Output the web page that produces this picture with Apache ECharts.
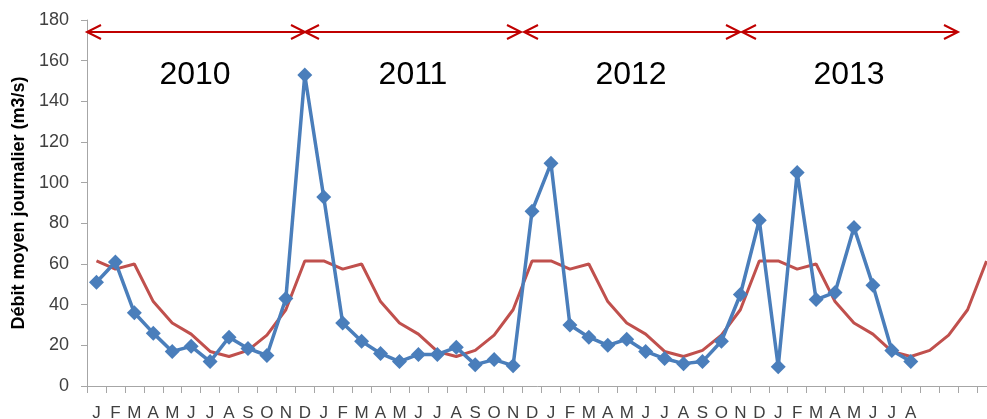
<!DOCTYPE html>
<html>
<head>
<meta charset="utf-8">
<script src="https://cdn.jsdelivr.net/npm/echarts@6/dist/echarts.min.js"></script>
<style>
html,body{margin:0;padding:0;background:#fff;overflow:hidden;}
#chart{width:987px;height:419px;}
</style>
</head>
<body>
<div id="chart"></div>
<script>
// Month tick labels (48 categories, last 4 unlabeled)
const months = [
  'J','F','M','A','M','J','J','A','S','O','N','D',
  'J','F','M','A','M','J','J','A','S','O','N','D',
  'J','F','M','A','M','J','J','A','S','O','N','D',
  'J','F','M','A','M','J','J','A','','','',''
];
// Measured mean daily discharge (m3/s)
const debitMesure = [
  51, 61, 36, 26, 17, 19.5, 12, 24, 18.5, 15, 43, 153,
  93, 31, 22, 16, 12, 15.5, 15.5, 19, 10.5, 13, 10, 86,
  109.5, 30, 24, 20, 23, 17, 13.5, 11, 12, 22, 45, 81.5,
  9.5, 105, 42.5, 46, 78, 49.5, 17.5, 12, null, null, null, null
];
// Monthly mean (interannual) discharge
const debitMoyen = [
  61.5, 57.5, 60, 41.5, 31, 25.5, 17, 14.5, 17.5, 25, 37.5, 61.5,
  61.5, 57.5, 60, 41.5, 31, 25.5, 17, 14.5, 17.5, 25, 37.5, 61.5,
  61.5, 57.5, 60, 41.5, 31, 25.5, 17, 14.5, 17.5, 25, 37.5, 61.5,
  61.5, 57.5, 60, 41.5, 31, 25.5, 17, 14.5, 17.5, 25, 37.5, 61.5
];
const yearLabels = ['2010', '2011', '2012', '2013'];
const yTicks = { min: 0, max: 180, interval: 20 };

const chart = echarts.init(document.getElementById('chart'), null, {renderer: 'canvas'});

const red = '#C00000';
const arrowY = 32;
const arrows = [[87, 305], [305, 521], [524, 740], [742, 958]];
const yearX = [195, 413, 631, 849];
const graphics = [];
arrows.forEach(([a, b]) => {
  graphics.push({type: 'line', shape: {x1: a, y1: arrowY, x2: b, y2: arrowY}, style: {stroke: red, lineWidth: 2}, z: 100});
  graphics.push({type: 'polyline', shape: {points: [[a + 14, arrowY - 7], [a, arrowY], [a + 14, arrowY + 7]]}, style: {stroke: red, lineWidth: 2, fill: null}, z: 100});
  graphics.push({type: 'polyline', shape: {points: [[b - 14, arrowY - 7], [b, arrowY], [b - 14, arrowY + 7]]}, style: {stroke: red, lineWidth: 2, fill: null}, z: 100});
});
yearLabels.forEach((t, i) => {
  graphics.push({type: 'text', x: yearX[i], y: 75, style: {text: t, fill: '#000', font: '32px "Liberation Sans", Arial, sans-serif', align: 'center', verticalAlign: 'middle'}, z: 100});
});

chart.setOption({
  animation: false,
  backgroundColor: '#fff',
  grid: {left: 87, width: 909, top: 20, bottom: 33, containLabel: false, outerBoundsMode: 'none'},
  xAxis: {
    type: 'category',
    data: months,
    boundaryGap: true,
    axisLine: {show: true, lineStyle: {color: '#A6A6A6', width: 1}},
    axisTick: {show: true, interval: 0, length: 7, lineStyle: {color: '#A6A6A6'}},
    axisLabel: {interval: 0, margin: 19, color: '#404040', fontSize: 17, fontFamily: '"Liberation Sans", Arial, sans-serif'},
    splitLine: {show: false}
  },
  yAxis: {
    type: 'value',
    min: yTicks.min, max: yTicks.max, interval: yTicks.interval,
    name: 'Débit moyen journalier (m3/s)',
    nameLocation: 'middle',
    nameGap: 58,
    nameTextStyle: {fontSize: 18, fontWeight: 'bold', color: '#000', fontFamily: '"Liberation Sans", Arial, sans-serif'},
    axisLine: {show: true, lineStyle: {color: '#A6A6A6', width: 1}},
    axisTick: {show: true, length: 6, lineStyle: {color: '#A6A6A6'}},
    axisLabel: {margin: 18, color: '#404040', fontSize: 18, fontFamily: '"Liberation Sans", Arial, sans-serif'},
    splitLine: {show: false}
  },
  series: [
    {
      name: 'Moyenne',
      type: 'line',
      data: debitMoyen,
      symbol: 'none',
      lineStyle: {color: '#C0504D', width: 3},
      itemStyle: {color: '#C0504D'},
      z: 3
    },
    {
      name: 'Mesuré',
      type: 'line',
      data: debitMesure,
      symbol: 'diamond',
      symbolSize: 15,
      connectNulls: false,
      lineStyle: {color: '#4A7EBB', width: 3.5},
      itemStyle: {color: '#4A7EBB'},
      z: 4
    }
  ],
  graphic: graphics
});
</script>
</body>
</html>
